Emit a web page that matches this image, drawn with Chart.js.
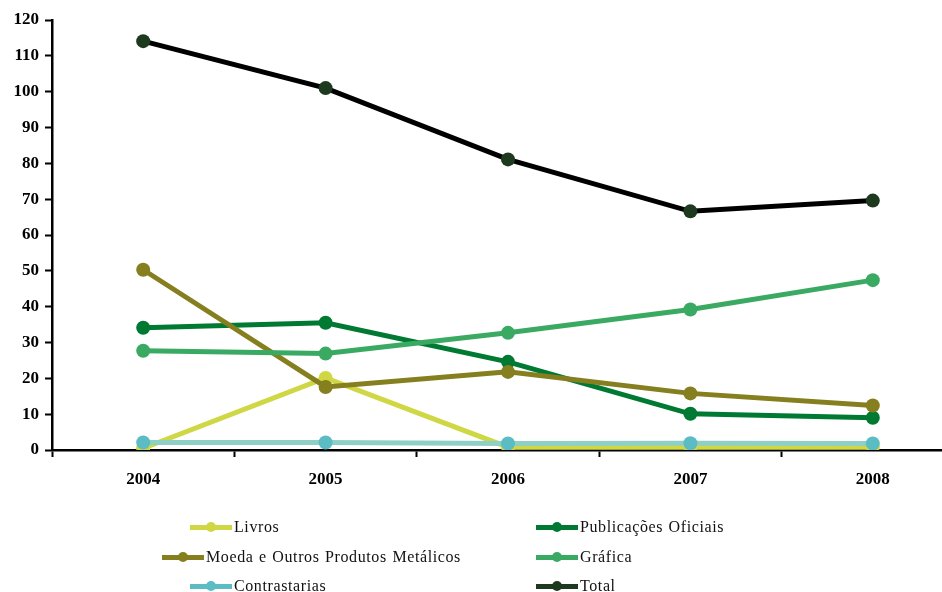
<!doctype html>
<html>
<head>
  <meta charset="utf-8" />
  <title>Evolução por área 2004-2008</title>
  <style>
    body { margin:0; background:#fff; }
    #wrap { position:relative; width:942px; height:592px; overflow:hidden; }
    #chart { position:absolute; left:0; top:0; }
    #legend { position:absolute; left:0; top:513px; width:942px; font-family:"Liberation Serif", serif; font-size:16px; letter-spacing:0.6px; word-spacing:1px; color:#111; }
    .item { position:absolute; display:flex; align-items:center; height:28px; white-space:nowrap; }
    .sym { position:relative; width:42px; height:5px; margin-right:2px; }
    .sym i { position:absolute; left:16px; top:-2.5px; width:10px; height:10px; border-radius:50%; }
  </style>
  <script src="https://cdn.jsdelivr.net/npm/chart.js"></script>
</head>
<body>
<div id="wrap">
  <canvas id="chart" width="971" height="592"></canvas>
  <div id="legend"></div>
</div>
<script>
const years = ['2004', '2005', '2006', '2007', '2008'];
const yTicks = [0, 10, 20, 30, 40, 50, 60, 70, 80, 90, 100, 110, 120];

const livros        = [0.5, 20.1, 0.8, 0.8, 0.8];
const publicacoes   = [34.1, 35.5, 24.6, 10.1, 9.0];
const moeda         = [50.3, 17.6, 21.8, 15.8, 12.4];
const grafica       = [27.7, 26.9, 32.7, 39.2, 47.4];
const contrastarias = [2.1, 2.1, 1.8, 1.9, 1.8];
const total         = [114.1, 101.0, 81.1, 66.6, 69.6];

// name, data, line colour, point colour, draw order (lower = on top)
const series = [
  ['Livros', livros, '#cfd844', '#cfd844', 5],
  ['Publicações Oficiais', publicacoes, '#007a32', '#007a32', 4],
  ['Moeda e Outros Produtos Metálicos', moeda, '#857f1f', '#857f1f', 3],
  ['Gráfica', grafica, '#3aaa63', '#3aaa63', 2],
  ['Contrastarias', contrastarias, '#8fd0c6', '#5bbcc4', 1],
  ['Total', total, '#000000', '#1e3a1e', 0]
];

const datasets = series.map(s => ({
  label: s[0],
  data: s[1],
  borderColor: s[2],
  backgroundColor: s[3],
  pointBackgroundColor: s[3],
  pointBorderWidth: 0,
  pointRadius: 7,
  borderWidth: 5,
  tension: 0,
  order: s[4]
}));

const tickFont = { family: 'Liberation Serif', size: 17, weight: 'bold' };

new Chart(document.getElementById('chart'), {
  type: 'line',
  data: { labels: years, datasets: datasets },
  options: {
    responsive: false,
    animation: false,
    layout: { padding: { top: 20, right: 0, bottom: 0, left: 0 } },
    plugins: { legend: { display: false }, tooltip: { enabled: false } },
    scales: {
      x: {
        offset: true,
        grid: { offset: true, drawOnChartArea: false, tickLength: 7, tickWidth: 2, tickColor: '#000' },
        border: { color: '#000', width: 2.5 },
        ticks: { font: tickFont, color: '#000', padding: 12 },
        afterFit: s => { s.height = 142; }
      },
      y: {
        min: 0, max: 120,
        afterBuildTicks: s => { s.ticks = yTicks.map(v => ({ value: v })); },
        grid: { drawOnChartArea: false, tickLength: 7, tickWidth: 2, tickColor: '#000' },
        border: { color: '#000', width: 2.5 },
        ticks: { font: tickFont, color: '#000', padding: 6 },
        afterFit: s => { s.width = 52; }
      }
    }
  }
});

// two-column legend under the plot
const legendPos = [
  [190, 0], [536, 0],
  [162, 30], [536, 30],
  [190, 59], [536, 59]
];
const legend = document.getElementById('legend');
series.forEach((s, i) => {
  const item = document.createElement('div');
  item.className = 'item';
  item.style.left = legendPos[i][0] + 'px';
  item.style.top = legendPos[i][1] + 'px';
  const sym = document.createElement('span');
  sym.className = 'sym';
  sym.style.background = s[3];
  const dot = document.createElement('i');
  dot.style.background = s[3];
  sym.appendChild(dot);
  item.appendChild(sym);
  item.appendChild(document.createTextNode(s[0]));
  legend.appendChild(item);
});
</script>
</body>
</html>
